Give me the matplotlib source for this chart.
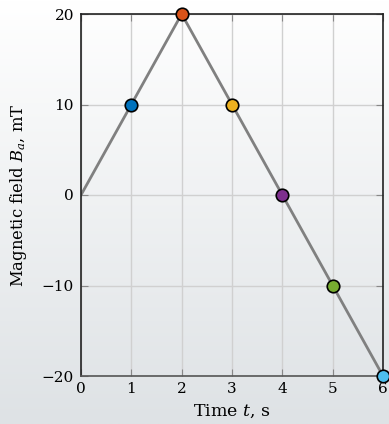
import numpy as np
import matplotlib.pyplot as plt

# field samples
t = [0, 1, 2, 3, 4, 5, 6]
B = [0, 10, 20, 10, 0, -10, -20]
# marked points and their colours
mark_t = [1, 2, 3, 4, 5, 6]
mark_B = [10, 20, 10, 0, -10, -20]
mark_colors = ['#0072BD', '#D95319', '#EDB120', '#7E2F8E', '#77AC30', '#4DBEEE']

plt.rcParams['font.family'] = 'DejaVu Serif'
plt.rcParams['mathtext.fontset'] = 'dejavuserif'

fig = plt.figure(figsize=(3.89, 4.24), dpi=100)

# background gradient, white at the top to light grey at the bottom
bg = fig.add_axes([0, 0, 1, 1], zorder=-10)
grad = np.linspace(0, 1, 256).reshape(-1, 1)
top = np.array([1.0, 1.0, 1.0])
bot = np.array([222, 226, 229]) / 255
img = top + (bot - top) * grad[:, :, None]
bg.imshow(img, aspect='auto', extent=[0, 1, 0, 1])
bg.axis('off')

ax = fig.add_axes([81 / 389, 1 - 376 / 424, (383 - 81) / 389, (376 - 14) / 424])
ax.patch.set_alpha(0)

ax.plot(t, B, color='#808080', lw=2, zorder=2)
for x, y, c in zip(mark_t, mark_B, mark_colors):
    ax.plot(x, y, 'o', ms=9, mfc=c, mec='black', mew=1.2, zorder=3, clip_on=False)

ax.set_xlim(0, 6)
ax.set_ylim(-20, 20)
ax.set_xticks(range(0, 7))
ax.set_yticks([-20, -10, 0, 10, 20])
ax.set_yticklabels(['\u221220', '\u221210', '0', '10', '20'])
ax.grid(True, color='#d0d0d0', lw=1)
ax.tick_params(direction='in', length=5, color='#888888', labelsize=11,
               top=True, right=True)
ax.tick_params(axis='y', pad=5)
ax.tick_params(axis='x', pad=4)
for s in ax.spines.values():
    s.set_color('#222222')
    s.set_linewidth(1.2)
ax.spines['bottom'].set_color('#555555')

ax.set_xlabel('Time $t$, s', fontsize=12.5, labelpad=5)
ax.set_ylabel('Magnetic field $B_a$, mT', fontsize=11.8, labelpad=9)

fig.savefig('out.png', dpi=100)
